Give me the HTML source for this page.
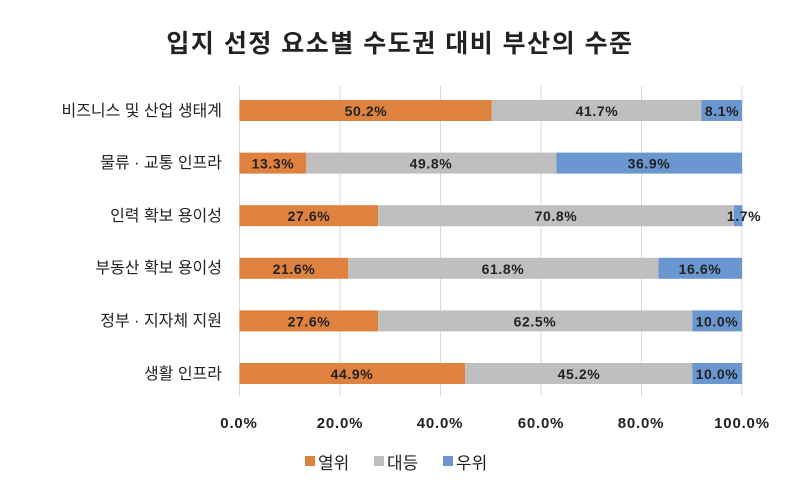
<!DOCTYPE html>
<html><head><meta charset="utf-8"><style>
body{margin:0;background:#fff;}
svg text{font-family:"Liberation Sans","Noto Sans CJK KR",sans-serif;}
</style></head><body>
<svg width="800" height="492" xmlns="http://www.w3.org/2000/svg">
<rect width="800" height="492" fill="#fff"/>
<text x="400" y="52" text-anchor="middle" font-size="25" font-weight="bold" letter-spacing="1.5" fill="#222">입지 선정 요소별 수도권 대비 부산의 수준</text>
<g stroke="#d9d9d9" stroke-width="1">
<line x1="239.5" y1="86" x2="239.5" y2="396"/>
<line x1="340" y1="86" x2="340" y2="396"/>
<line x1="440.5" y1="86" x2="440.5" y2="396"/>
<line x1="541" y1="86" x2="541" y2="396"/>
<line x1="641.5" y1="86" x2="641.5" y2="396"/>
<line x1="742" y1="86" x2="742" y2="396"/>
</g>
<g font-size="15" font-weight="bold" fill="#222" text-anchor="middle" letter-spacing="0.8">
<text x="239" y="428">0.0%</text><text x="340" y="428">20.0%</text><text x="440" y="428">40.0%</text><text x="541" y="428">60.0%</text><text x="641" y="428">80.0%</text><text x="742" y="428">100.0%</text>
</g>
<g font-size="16" fill="#222" text-anchor="end">
<text x="222" y="116">비즈니스 및 산업 생태계</text>
<text x="222" y="168">물류 · 교통 인프라</text>
<text x="222" y="221">인력 확보 용이성</text>
<text x="222" y="273">부동산 확보 용이성</text>
<text x="222" y="326">정부 · 지자체 지원</text>
<text x="222" y="379">생활 인프라</text>
</g>
<g>
<rect x="239.5" y="100" width="252.3" height="21" fill="#e0823f"/><rect x="491.8" y="100" width="209.5" height="21" fill="#bfbfbf"/><rect x="701.3" y="100" width="40.7" height="21" fill="#6a97d0"/>
<rect x="239.5" y="152.6" width="66.8" height="21" fill="#e0823f"/><rect x="306.3" y="152.6" width="250.2" height="21" fill="#bfbfbf"/><rect x="556.5" y="152.6" width="185.5" height="21" fill="#6a97d0"/>
<rect x="239.5" y="205.2" width="138.7" height="21" fill="#e0823f"/><rect x="378.2" y="205.2" width="355.8" height="21" fill="#bfbfbf"/><rect x="734" y="205.2" width="8.5" height="21" fill="#6a97d0"/>
<rect x="239.5" y="257.8" width="108.5" height="21" fill="#e0823f"/><rect x="348" y="257.8" width="310.5" height="21" fill="#bfbfbf"/><rect x="658.5" y="257.8" width="83.5" height="21" fill="#6a97d0"/>
<rect x="239.5" y="310.4" width="138.7" height="21" fill="#e0823f"/><rect x="378.2" y="310.4" width="314" height="21" fill="#bfbfbf"/><rect x="692.2" y="310.4" width="49.8" height="21" fill="#6a97d0"/>
<rect x="239.5" y="363" width="225.6" height="21" fill="#e0823f"/><rect x="465.1" y="363" width="227.1" height="21" fill="#bfbfbf"/><rect x="692.2" y="363" width="49.8" height="21" fill="#6a97d0"/>
</g>
<g font-size="14" font-weight="bold" fill="#222" text-anchor="middle" letter-spacing="0.6">
<text x="366" y="116">50.2%</text><text x="597" y="116">41.7%</text><text x="722" y="116">8.1%</text>
<text x="273" y="168.6">13.3%</text><text x="431" y="168.6">49.8%</text><text x="649" y="168.6">36.9%</text>
<text x="309" y="221.2">27.6%</text><text x="556" y="221.2">70.8%</text><text x="744" y="221.2">1.7%</text>
<text x="294" y="273.8">21.6%</text><text x="503" y="273.8">61.8%</text><text x="700" y="273.8">16.6%</text>
<text x="309" y="326.4">27.6%</text><text x="535" y="326.4">62.5%</text><text x="717" y="326.4">10.0%</text>
<text x="352" y="379">44.9%</text><text x="579" y="379">45.2%</text><text x="717" y="379">10.0%</text>
</g>
<g font-size="17" fill="#222">
<rect x="305" y="456" width="10" height="10" fill="#e0823f"/><text x="318" y="469">열위</text>
<rect x="374" y="456" width="10" height="10" fill="#bfbfbf"/><text x="387" y="469">대등</text>
<rect x="443" y="456" width="10" height="10" fill="#6a97d0"/><text x="456" y="469">우위</text>
</g>
</svg>
</body></html>
